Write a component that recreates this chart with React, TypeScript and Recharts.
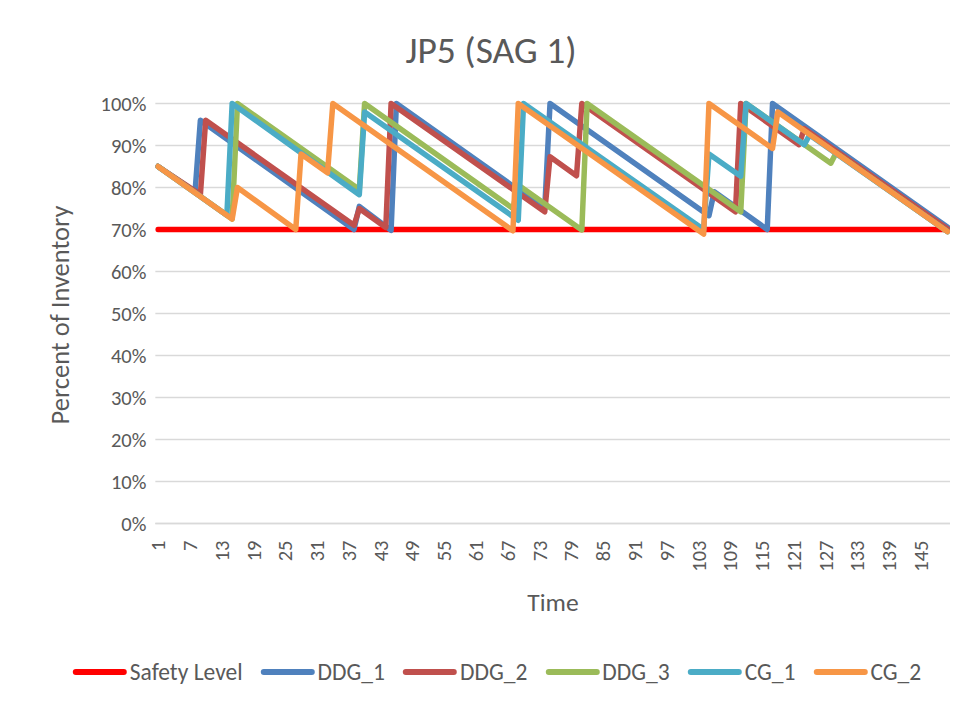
import React from "react"
import { LineChart, Line, XAxis, YAxis, CartesianGrid } from "recharts"

// vertices of each sawtooth, [time, percent of inventory]
const safetyLevel: [number, number][] = [[1, 70], [150, 70]]
const ddg1: [number, number][] = [
  [1, 85], [8, 79], [9, 96], [38, 70], [39, 75.5], [45, 69.8], [46, 100], [74, 75], [75, 100],
  [105, 73.3], [106, 79], [116, 70], [117, 100], [150, 70.6],
]
const ddg2: [number, number][] = [
  [1, 85], [9, 78.3], [10, 96], [38, 71], [39, 75], [44, 70.5], [45, 100], [74, 74.2], [75, 87.3],
  [80, 82.8], [81, 100], [110, 74.2], [111, 100], [122, 90.2], [123, 94], [150, 70.2],
]
const ddg3: [number, number][] = [
  [1, 85], [15, 72.5], [16, 100], [39, 79.5], [40, 100], [68, 75], [69, 80.6], [81, 69.9], [82, 100],
  [111, 74.2], [112, 100], [128, 85.8], [129, 88.2], [150, 69.5],
]
const cg1: [number, number][] = [
  [1, 85], [14, 73.4], [15, 100], [39, 78.3], [40, 98], [69, 72.2], [70, 100], [104, 70], [105, 88],
  [111, 82.7], [112, 100], [123, 90.2], [124, 92.5], [150, 69.5],
]
const cg2: [number, number][] = [
  [1, 85], [15, 72.5], [16, 80], [27, 70], [28, 88], [33, 83.5], [34, 100], [68, 69.7], [69, 100],
  [104, 68.9], [105, 100], [117, 89.3], [118, 98], [150, 69.5],
]

const xTicks = [1, 7, 13, 19, 25, 31, 37, 43, 49, 55, 61, 67, 73, 79, 85, 91, 97, 103, 109, 115, 121, 127, 133, 139, 145]
const yTicks = [0, 10, 20, 30, 40, 50, 60, 70, 80, 90, 100]

const series = [
  { name: "Safety Level", points: safetyLevel, color: "#FF0000" },
  { name: "DDG_1", points: ddg1, color: "#4F81BD" },
  { name: "DDG_2", points: ddg2, color: "#C0504D" },
  { name: "DDG_3", points: ddg3, color: "#9BBB59" },
  { name: "CG_1", points: cg1, color: "#4BACC6" },
  { name: "CG_2", points: cg2, color: "#F79646" },
]

const FONT = "Carlito, Calibri, Lato, sans-serif"
const TEXT = "#595959"

function TimeTick({ x, y, payload }: any) {
  return (
    <text
      x={x}
      y={y + 9}
      transform={`rotate(-90, ${x}, ${y + 9})`}
      textAnchor="end"
      dy="0.35em"
      fontSize={20.5}
      fontFamily={FONT}
      fill={TEXT}
    >
      {payload.value}
    </text>
  )
}

export default function App() {
  return (
    <div style={{ position: "relative", width: 961, height: 701, fontFamily: FONT, color: TEXT }}>
      <div style={{ position: "absolute", left: -1, top: -8, width: 1, height: 706, background: "#d9d9d9" }} />
      <div
        style={{
          position: "absolute", left: 483, top: 23, transform: "translateX(-50%)",
          fontSize: 37.5, lineHeight: "38px", whiteSpace: "nowrap",
        }}
      >
        JP5 (SAG 1)
      </div>

      <LineChart
        width={961}
        height={701}
        margin={{ top: 95.5, right: 19, bottom: 145.5, left: 87.35 }}
      >
        <CartesianGrid vertical={false} stroke="#d9d9d9" strokeWidth={1.5} />
        <XAxis
          type="number"
          dataKey="t"
          domain={[0.5, 150.5]}
          ticks={xTicks}
          interval={0}
          height={40}
          tickLine={false}
          axisLine={{ stroke: "#d9d9d9", strokeWidth: 1.5 }}
          tick={<TimeTick />}
          allowDataOverflow
        />
        <YAxis
          type="number"
          domain={[0, 100]}
          ticks={yTicks}
          width={60}
          tickLine={false}
          axisLine={false}
          tickMargin={3}
          tickFormatter={(v: number) => `${v}%`}
          tick={{ fontSize: 20.5, fill: TEXT, fontFamily: FONT }}
        />
        {series.map((s) => (
          <Line
            key={s.name}
            name={s.name}
            data={s.points.map(([t, v]) => ({ t, v }))}
            dataKey="v"
            type="linear"
            stroke={s.color}
            strokeWidth={5.5}
            strokeLinecap="round"
            strokeLinejoin="round"
            dot={false}
            activeDot={false}
            isAnimationActive={false}
          />
        ))}
      </LineChart>

      <div
        style={{
          position: "absolute", left: 52, top: 307,
          transform: "translate(-50%, -50%) rotate(-90deg)",
          fontSize: 26.5, whiteSpace: "nowrap",
        }}
      >
        Percent of Inventory
      </div>
      <div
        style={{
          position: "absolute", left: 545, top: 594,
          transform: "translate(-50%, -50%)", fontSize: 25.5,
        }}
      >
        Time
      </div>

      <div
        style={{
          position: "absolute", left: 488, top: 664,
          transform: "translate(-50%, -50%)",
          display: "flex", alignItems: "center", gap: 16, whiteSpace: "nowrap", fontSize: 23.5,
        }}
      >
        {series.map((s) => (
          <div key={s.name} style={{ display: "flex", alignItems: "center" }}>
            <svg width={58} height={10}>
              <line x1={5} y1={5} x2={53} y2={5} stroke={s.color} strokeWidth={6} strokeLinecap="round" />
            </svg>
            <span style={{ marginLeft: 1 }}>{s.name}</span>
          </div>
        ))}
      </div>
    </div>
  )
}
